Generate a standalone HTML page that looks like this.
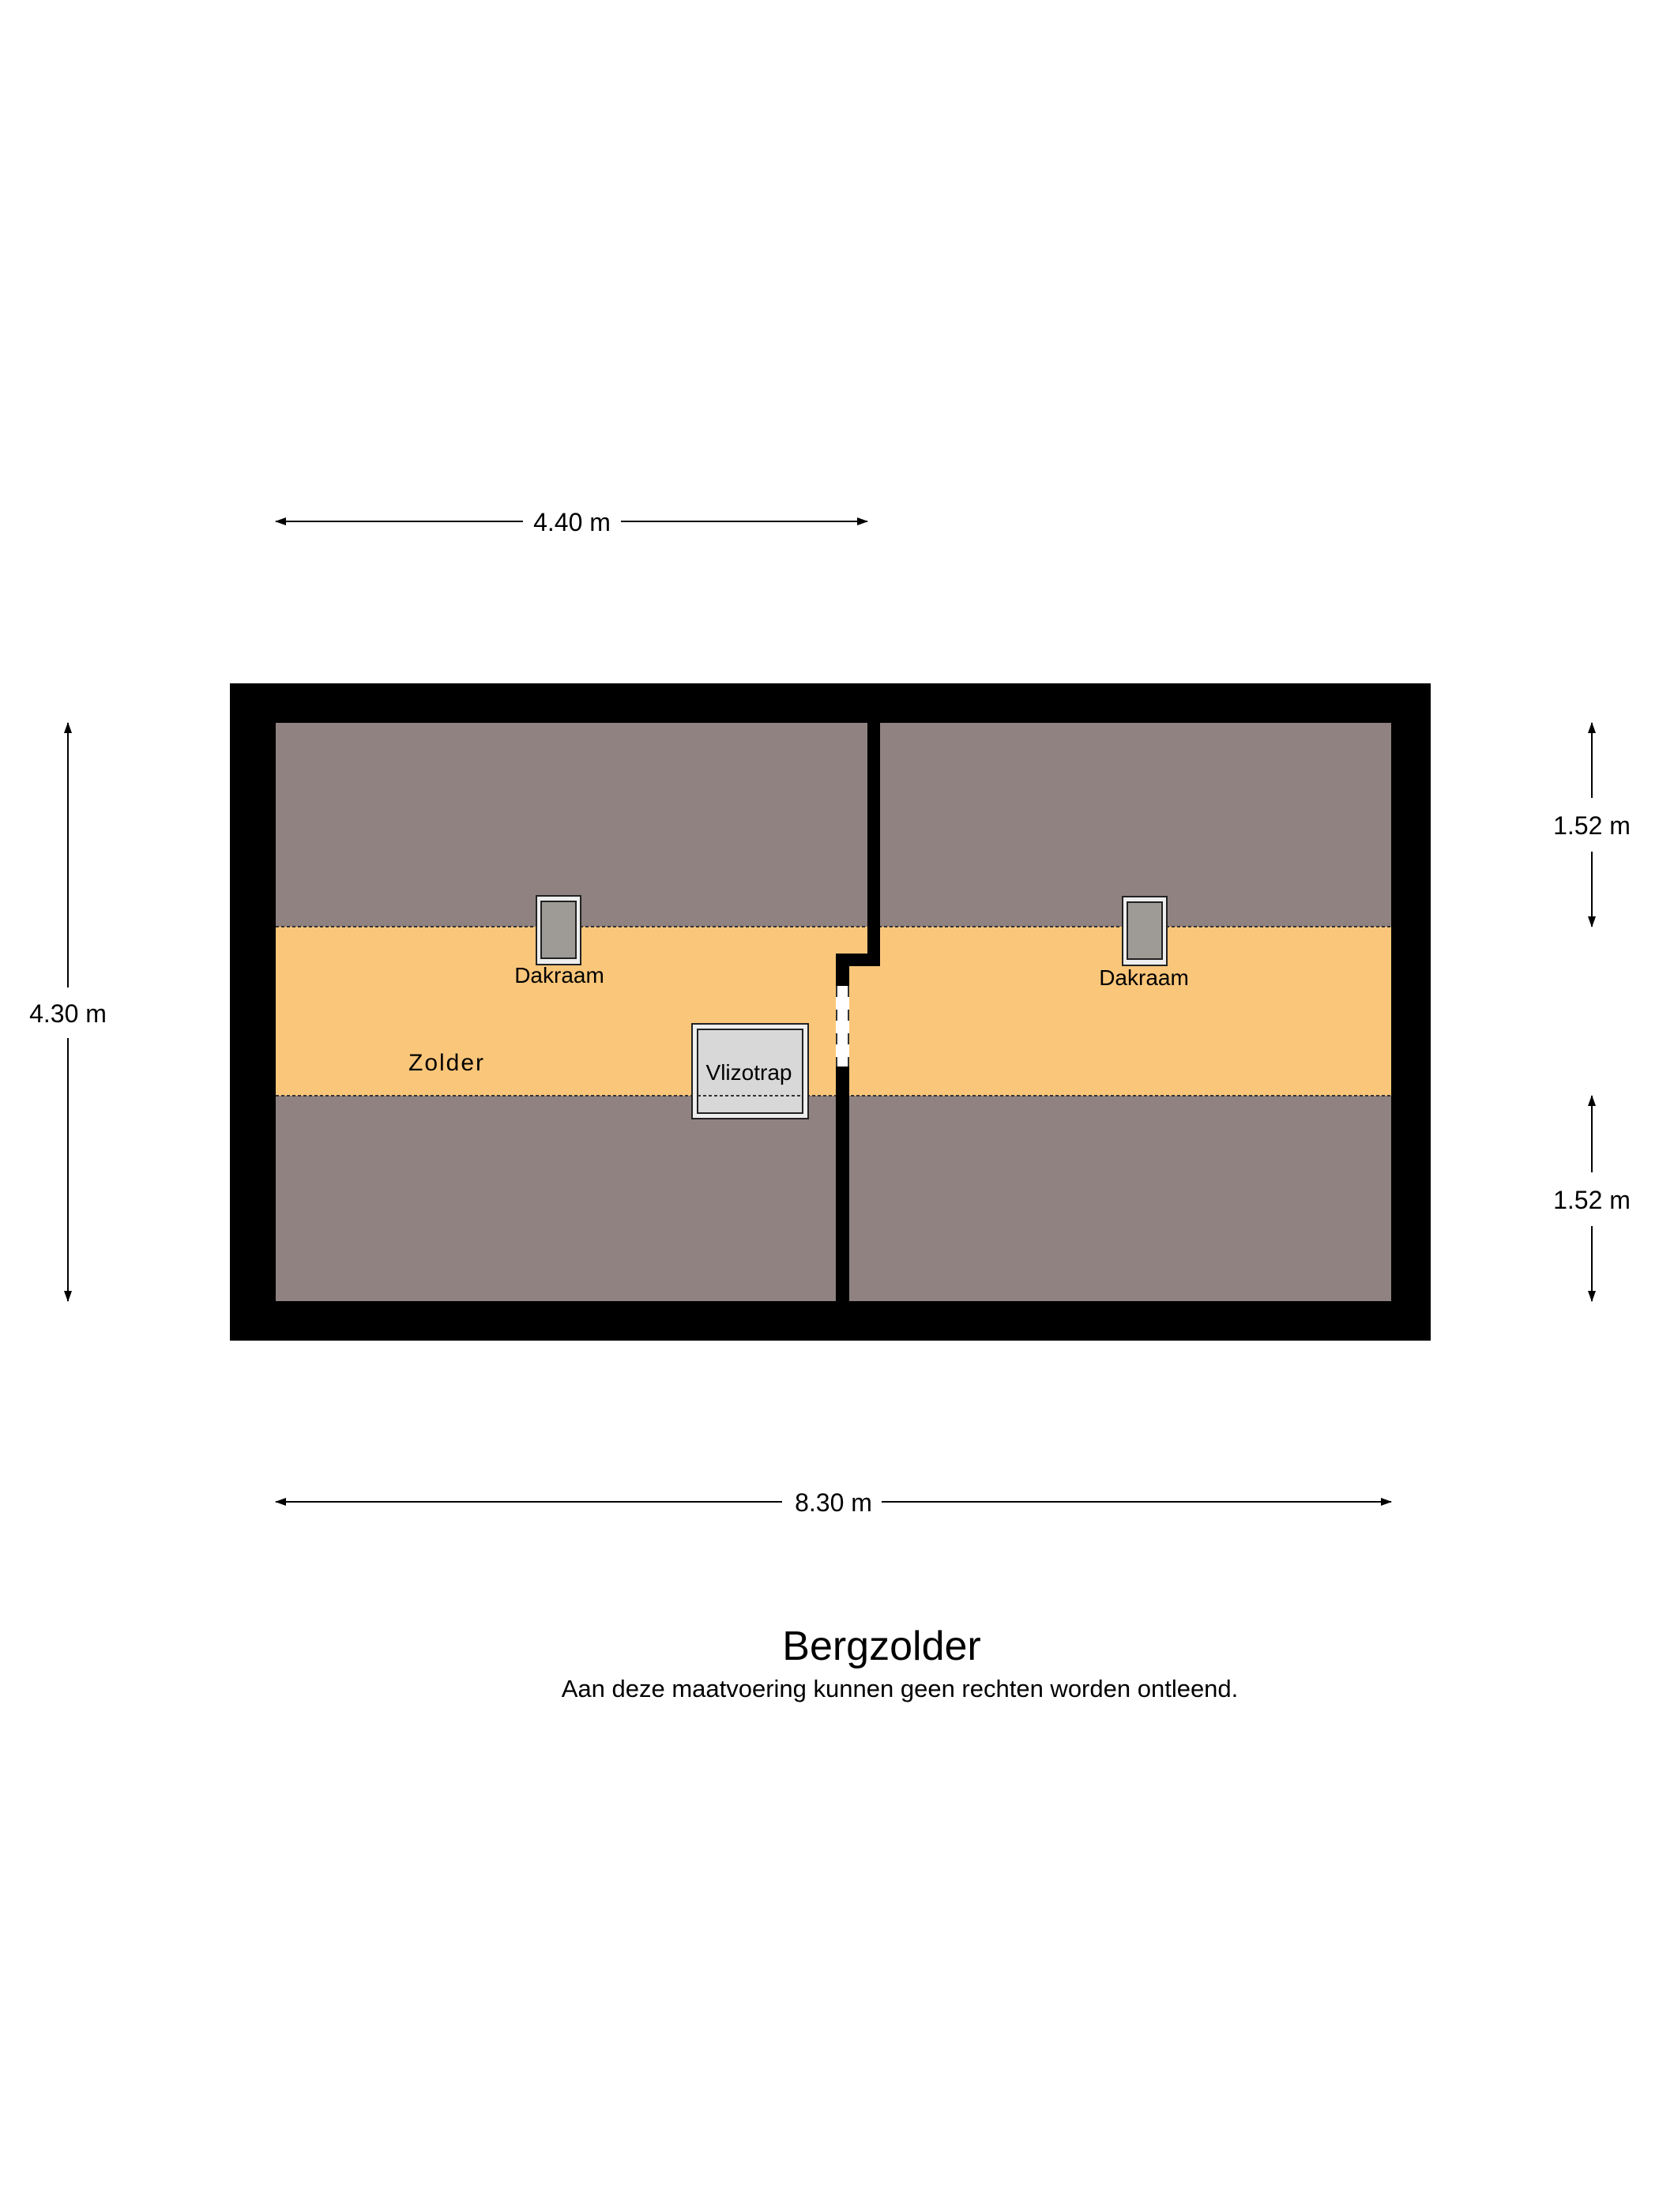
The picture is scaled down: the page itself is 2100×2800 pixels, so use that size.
<!DOCTYPE html>
<html><head><meta charset="utf-8"><style>
html,body{margin:0;padding:0;background:#fff;}
svg{display:block;}
text{font-family:"Liberation Sans",sans-serif;fill:#000;}
</style></head><body>
<svg width="2100" height="2800" viewBox="0 0 2100 2800" xmlns="http://www.w3.org/2000/svg">
<defs>
<marker id="a" markerWidth="14" markerHeight="10" refX="13" refY="5" orient="auto-start-reverse" markerUnits="userSpaceOnUse">
<path d="M0,0 L14,5 L0,10 z" fill="#000"/></marker>
</defs>
<rect x="291" y="865" width="1520" height="832" fill="#000"/>
<rect x="349" y="915" width="1412" height="732" fill="#8f8280"/>
<rect x="349" y="1173" width="1412" height="214" fill="#fac67a"/>
<line x1="349" y1="1173" x2="1761" y2="1173" stroke="#333" stroke-width="2" stroke-dasharray="4,3"/>
<line x1="349" y1="1387" x2="1761" y2="1387" stroke="#333" stroke-width="2" stroke-dasharray="4,3"/>
<!-- partition -->
<rect x="1098" y="915" width="16" height="308" fill="#000"/>
<rect x="1058" y="1207" width="56" height="16" fill="#000"/>
<rect x="1058" y="1207" width="17" height="440" fill="#000"/>
<rect x="1058" y="1248" width="17" height="102" fill="#fff"/>
<line x1="1059" y1="1248" x2="1059" y2="1350" stroke="#333" stroke-width="2" stroke-dasharray="14,16"/>
<line x1="1074" y1="1248" x2="1074" y2="1350" stroke="#333" stroke-width="2" stroke-dasharray="14,16"/>
<!-- dakramen -->
<g stroke="#222" stroke-width="2">
<rect x="679" y="1134" width="56" height="87" fill="#eee"/>
<rect x="685" y="1141" width="44" height="72" fill="#9e9a96"/>
<rect x="1421" y="1135" width="56" height="87" fill="#eee"/>
<rect x="1427" y="1142" width="44" height="72" fill="#9e9a96"/>
<rect x="876" y="1296" width="147" height="120" fill="#eee"/>
<rect x="883" y="1303" width="133" height="106" fill="#d8d8d8"/>
</g>
<line x1="883" y1="1387" x2="1016" y2="1387" stroke="#333" stroke-width="2" stroke-dasharray="4,3"/>
<text x="708" y="1244" font-size="28" text-anchor="middle">Dakraam</text>
<text x="1448" y="1247" font-size="28" text-anchor="middle">Dakraam</text>
<text x="517" y="1355" font-size="30" letter-spacing="2">Zolder</text>
<text x="948" y="1367" font-size="28" text-anchor="middle">Vlizotrap</text>
<!-- dimensions -->
<g stroke="#000" stroke-width="2" fill="none">
<line x1="349" y1="660" x2="662" y2="660" marker-start="url(#a)"/>
<line x1="786" y1="660" x2="1098" y2="660" marker-end="url(#a)"/>
<line x1="349" y1="1901" x2="990" y2="1901" marker-start="url(#a)"/>
<line x1="1116" y1="1901" x2="1761" y2="1901" marker-end="url(#a)"/>
<line x1="86" y1="915" x2="86" y2="1250" marker-start="url(#a)"/>
<line x1="86" y1="1314" x2="86" y2="1647" marker-end="url(#a)"/>
<line x1="2015" y1="915" x2="2015" y2="1010" marker-start="url(#a)"/>
<line x1="2015" y1="1078" x2="2015" y2="1173" marker-end="url(#a)"/>
<line x1="2015" y1="1387" x2="2015" y2="1484" marker-start="url(#a)"/>
<line x1="2015" y1="1552" x2="2015" y2="1647" marker-end="url(#a)"/>
</g>
<text x="724" y="672" font-size="32" text-anchor="middle">4.40 m</text>
<text x="1055" y="1913" font-size="32" text-anchor="middle">8.30 m</text>
<text x="86" y="1294" font-size="32" text-anchor="middle">4.30 m</text>
<text x="2015" y="1056" font-size="32" text-anchor="middle">1.52 m</text>
<text x="2015" y="1530" font-size="32" text-anchor="middle">1.52 m</text>
<text x="1116" y="2101" font-size="52" text-anchor="middle">Bergzolder</text>
<text x="1139" y="2148" font-size="31" text-anchor="middle">Aan deze maatvoering kunnen geen rechten worden ontleend.</text>
</svg>
</body></html>
